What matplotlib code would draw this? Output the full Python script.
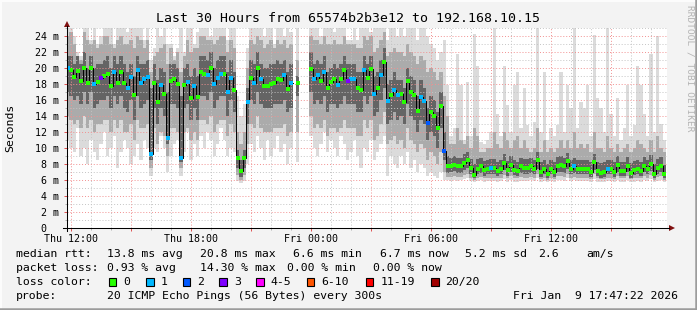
import numpy as np
import matplotlib.pyplot as plt
from matplotlib.ticker import MultipleLocator, FuncFormatter
from matplotlib.patches import Rectangle, Polygon

plt.rcParams['font.family'] = ['DejaVu Sans Mono']
nan = np.nan

# 10 minute steps, time in hours after Thu 12:00
t_start = -1 / 6
t_step = 1 / 6

median = [
    20.0, 19.7, 18.9, 19.6, 18.4, 20.0, 18.1, 20.0, 18.0, 18.3,
    18.8, 19.0, 19.3, 17.8, 19.5, 18.1, 19.5, 18.1, 17.5, 18.9,
    16.6, 19.8, 18.1, 18.6, 18.9, 9.3, 18.1, 15.8, 17.9, 16.8,
    11.3, 18.4, 18.6, 18.0, 8.8, 17.9, 18.3, 16.3, 17.7, 16.4,
    19.5, 19.3, 19.1, 20.0, 18.0, 18.8, 19.3, 19.3, 17.0, 18.8,
    17.3, 8.7, 7.1, 8.7, 15.7, 18.8, 18.1, 20.0, 18.6, 17.8,
    17.7, 18.0, 18.1, 18.6, 18.5, 19.1, 17.4, 18.1, nan, 18.1,
    nan, nan, nan, 19.9, 18.6, 19.1, 18.4, 19.5, 17.5, 18.2,
    18.6, 17.9, 18.6, 19.7, 18.4, 18.6, 18.6, 17.5, 17.3, 19.7,
    18.8, 19.9, 16.8, 17.5, 19.1, 20.8, 15.9, 16.6, 17.3, 16.6,
    16.8, 15.7, 18.4, 17.0, 16.6, 14.6, 16.4, 15.9, 13.1, 14.5,
    14.0, 12.5, 15.3, 9.6, 7.7, 7.8, 7.9, 7.7, 7.7, 8.1,
    8.5, 7.5, 6.6, 7.4, 7.7, 7.2, 7.4, 7.5, 7.5, 7.1,
    7.4, 8.1, 7.2, 7.9, 7.3, 7.1, 7.7, 7.5, 7.5, 7.7,
    7.4, 8.5, 7.0, 7.4, 6.8, 7.4, 7.0, 7.8, 7.9, 7.7,
    8.4, 7.4, 7.7, 7.4, 7.4, 7.4, 7.4, 7.0, 8.3, 7.1,
    6.9, 7.0, 7.4, 7.4, 7.0, 7.9, 7.1, 7.1, 7.8, 6.9,
    7.3, 7.4, 7.1, 7.8, 7.4, 8.0, 6.8, 7.5, 7.8, 6.7,
]

# lost pings per step (index into loss_colors)
loss_class = (
    "1000000010" "3000100011" "0111110010" "1000101010" "0010111011"
    "0000101010" "0000010100" "0000110100" "0100311001" "0010101011"
    "0000001120" "0002000000" "0000000100" "0000000000" "0000000000"
    "0010000000" "0010000000" "0000000000"
)

p_max = [
    25, 25, 24, 22, 21.5, 25, 25, 23.5, 25, 23,
    24, 25, 25, 25, 23, 25, 25, 25, 24.5, 25,
    25, 25, 25, 23.5, 25, 21, 22.5, 25, 24, 25,
    23, 23, 21.5, 22.5, 25, 22, 25, 25, 23, 24.5,
    25, 25, 25, 24, 25, 25, 25, 25, 23.5, 25,
    25, 16.5, 14.0, 15.5, 22.5, 25, 25, 25, 25, 24,
    25, 25, 23, 25, 25, 24, 25, 24.5, nan, 25,
    nan, nan, nan, 25, 25, 25, 24, 25, 25, 25,
    24.5, 25, 25, 25, 23.5, 23.5, 25, 23.5, 25, 25,
    25, 24.5, 25, 25, 25, 25, 23.5, 25, 25, 24,
    25, 24, 25, 25, 25, 23.5, 25, 25, 24, 23,
    22.5, 21, 22, 23.5, 17.9, 11.5, 12.5, 21.8, 17.9, 11.0,
    18.3, 11.5, 24.2, 20.2, 10.8, 10.5, 11.0, 12.0, 25, 14.3,
    11.5, 20.2, 15.4, 12.0, 17.9, 19.5, 12.5, 17.5, 12.9, 11.5,
    13.3, 25, 12.0, 19.5, 11.0, 12.5, 11.5, 12.9, 19.5, 12.0,
    17.9, 15.0, 25, 12.5, 15.8, 15.0, 17.9, 11.5, 24.1, 16.2,
    15.0, 12.0, 25, 14.3, 11.5, 16.2, 11.0, 12.5, 17.9, 11.5,
    12.9, 20.2, 17.9, 14.3, 11.5, 21.8, 12.0, 24.0, 13.0, 11.0,
]

p_90 = [
    24, 24.5, 23, 21.5, 21, 24.5, 23.5, 23, 23.5, 22.5,
    23, 24, 24, 23, 22.5, 23.5, 24, 23, 23, 23.5,
    22.5, 24, 23.5, 22.5, 23.5, 19.5, 21.5, 22, 22.5, 23,
    20.5, 22.5, 21, 22, 19.5, 21.5, 23.5, 22, 22.5, 22.5,
    24, 24, 23.5, 23.5, 23, 23.5, 24, 24, 22, 23.5,
    22.5, 12.0, 10.5, 12.0, 20.0, 23.5, 23, 24, 23.5, 22.5,
    23, 23.5, 22.5, 23.5, 23, 23.5, 22.5, 23, nan, 21,
    nan, nan, nan, 24, 23.5, 23.5, 23, 24, 23, 23,
    23.5, 23, 23, 24, 23, 23, 23, 22.5, 22.5, 24,
    23.5, 24, 22, 22.5, 23.5, 24.5, 21.5, 22, 22.5, 22,
    22, 21.5, 23, 22, 21.5, 20.5, 21.5, 21, 19.5, 20,
    19.5, 18.5, 19.5, 16.5, 14.0, 10.5, 10.5, 12.5, 11.0, 10.5,
    11.5, 10.0, 12.5, 11.5, 9.5, 9.5, 10.0, 10.0, 12.0, 10.5,
    10.0, 12.0, 11.0, 10.0, 11.0, 11.5, 10.0, 11.0, 10.0, 9.5,
    10.0, 12.5, 9.5, 11.0, 9.5, 10.0, 9.5, 10.0, 11.0, 10.0,
    11.0, 10.0, 12.0, 10.0, 10.5, 10.0, 10.5, 9.5, 12.0, 10.0,
    10.0, 9.5, 11.5, 10.0, 9.5, 10.5, 9.5, 10.0, 10.5, 9.5,
    10.0, 11.0, 10.5, 10.0, 9.5, 11.0, 9.5, 11.5, 10.0, 9.5,
]

p_75 = [
    21.5, 21.5, 20.5, 21.5, 20.5, 22, 20, 21.5, 20, 20.5,
    20.5, 21, 21.5, 20, 21.5, 20.5, 21.5, 20.5, 19.5, 20.5,
    19, 21.5, 20.5, 20.5, 21, 17.5, 20.5, 18.5, 20, 19.5,
    17.0, 20.5, 20.5, 20, 16.5, 20, 20.5, 19, 20, 19,
    21.5, 21.5, 21, 22, 20, 21, 21.5, 21.5, 19.5, 21,
    19.5, 9.8, 8.5, 9.8, 17.5, 21, 20.5, 22, 20.5, 20,
    20, 20.5, 20.5, 21, 20.5, 21, 19.5, 20.5, nan, 19.0,
    nan, nan, nan, 22, 20.5, 21, 20.5, 21.5, 19.5, 20,
    20.5, 20, 20.5, 21.5, 20.5, 20.5, 20.5, 19.5, 19.5, 21.5,
    20.5, 21.5, 19, 19.5, 21, 22.5, 18, 18.5, 19.5, 18.5,
    18.5, 17.5, 20, 19, 18.5, 16.5, 18.5, 17.5, 15, 16.5,
    16, 14.5, 17, 12.0, 9.0, 8.8, 9.0, 8.8, 8.8, 9.2,
    9.5, 8.6, 8.0, 8.6, 8.8, 8.4, 8.5, 8.6, 8.6, 8.3,
    8.5, 9.2, 8.4, 9.0, 8.5, 8.3, 8.8, 8.6, 8.6, 8.8,
    8.5, 9.5, 8.2, 8.5, 8.0, 8.5, 8.2, 8.9, 9.0, 8.8,
    9.4, 8.5, 8.8, 8.5, 8.5, 8.5, 8.5, 8.2, 9.3, 8.3,
    8.1, 8.2, 8.5, 8.5, 8.2, 9.0, 8.3, 8.3, 8.9, 8.1,
    8.4, 8.5, 8.3, 8.9, 8.5, 9.1, 8.0, 8.6, 8.9, 7.9,
]

p_25 = [
    17.0, 16.5, 16.0, 16.5, 15.5, 17.0, 15.5, 17.0, 15.0, 15.5,
    16.0, 16.0, 16.5, 15.0, 16.5, 15.5, 16.5, 15.0, 14.5, 16.0,
    13.5, 16.5, 15.0, 15.5, 16.0, 8.5, 15.0, 13.0, 15.0, 14.0,
    10.5, 15.5, 15.5, 15.0, 8.2, 15.0, 15.5, 13.5, 15.0, 13.5,
    16.5, 16.5, 16.0, 17.0, 15.0, 16.0, 16.5, 16.5, 14.0, 16.0,
    14.5, 7.5, 6.4, 7.5, 13.0, 16.0, 15.5, 17.0, 15.5, 15.0,
    15.0, 15.0, 15.5, 15.5, 15.5, 16.0, 14.5, 15.0, nan, 16.5,
    nan, nan, nan, 17.0, 15.5, 16.0, 15.5, 16.5, 14.5, 15.5,
    15.5, 15.0, 15.5, 16.5, 15.5, 15.5, 15.5, 14.5, 14.5, 16.5,
    15.5, 16.5, 14.0, 14.5, 16.0, 17.5, 13.0, 13.5, 14.5, 13.5,
    14.0, 13.0, 15.5, 14.0, 13.5, 12.0, 13.5, 13.0, 11.0, 12.0,
    11.5, 10.0, 12.5, 8.5, 6.9, 7.0, 7.1, 6.9, 6.9, 7.2,
    7.5, 6.8, 6.2, 6.7, 6.9, 6.5, 6.7, 6.8, 6.8, 6.5,
    6.7, 7.2, 6.5, 7.0, 6.6, 6.5, 6.9, 6.8, 6.8, 6.9,
    6.7, 7.4, 6.4, 6.7, 6.3, 6.7, 6.4, 7.0, 7.0, 6.9,
    7.4, 6.7, 6.9, 6.7, 6.7, 6.7, 6.7, 6.4, 7.3, 6.5,
    6.3, 6.4, 6.7, 6.7, 6.4, 7.0, 6.5, 6.5, 7.0, 6.3,
    6.6, 6.7, 6.5, 7.0, 6.7, 7.1, 6.3, 6.8, 7.0, 6.2,
]

p_10 = [
    14.0, 13.5, 13.0, 13.5, 12.5, 14.0, 12.5, 13.5, 12.0, 13.0,
    13.0, 13.5, 13.5, 12.0, 13.5, 12.5, 13.5, 12.0, 12.0, 13.0,
    11.0, 13.5, 12.5, 12.5, 13.0, 7.5, 12.5, 10.5, 12.0, 11.5,
    9.0, 12.5, 12.5, 12.0, 7.5, 12.0, 12.5, 11.0, 12.0, 11.0,
    13.5, 13.5, 13.0, 14.0, 12.0, 13.0, 13.5, 13.5, 11.5, 13.0,
    12.0, 6.6, 6.0, 6.6, 10.5, 13.0, 12.5, 14.0, 12.5, 12.0,
    12.0, 12.0, 12.5, 12.5, 12.5, 13.0, 11.5, 12.0, nan, 12.0,
    nan, nan, nan, 14.0, 12.5, 13.0, 12.5, 13.5, 11.5, 12.5,
    12.5, 12.0, 12.5, 13.5, 12.5, 12.5, 12.5, 11.5, 11.5, 13.5,
    12.5, 13.5, 11.0, 11.5, 13.0, 14.5, 10.5, 11.0, 11.5, 10.5,
    11.0, 10.0, 12.5, 11.0, 10.5, 9.5, 10.5, 10.0, 8.5, 9.5,
    9.0, 8.0, 9.5, 7.0, 6.4, 6.4, 6.5, 6.4, 6.4, 6.6,
    6.8, 6.3, 6.0, 6.3, 6.4, 6.2, 6.3, 6.3, 6.3, 6.2,
    6.3, 6.6, 6.2, 6.5, 6.2, 6.2, 6.4, 6.3, 6.3, 6.4,
    6.3, 6.8, 6.1, 6.3, 6.0, 6.3, 6.1, 6.5, 6.5, 6.4,
    6.8, 6.3, 6.4, 6.3, 6.3, 6.3, 6.3, 6.1, 6.7, 6.2,
    6.1, 6.1, 6.3, 6.3, 6.1, 6.5, 6.2, 6.2, 6.5, 6.1,
    6.2, 6.3, 6.2, 6.5, 6.3, 6.6, 6.0, 6.4, 6.5, 6.0,
]

p_min = [
    11.0, 10.0, 9.5, 12.5, 9.0, 10.0, 8.0, 11.0, 9.5, 8.5,
    10.5, 12.0, 9.0, 10.0, 11.5, 7.5, 9.5, 11.0, 10.0, 8.0,
    9.0, 10.5, 8.5, 11.0, 10.0, 6.5, 10.0, 9.5, 11.5, 10.0,
    7.0, 9.0, 10.5, 11.0, 6.5, 9.5, 12.0, 8.5, 10.5, 9.0,
    11.5, 10.0, 12.0, 11.0, 9.0, 10.5, 12.5, 11.0, 9.0, 10.0,
    9.5, 5.9, 5.6, 5.9, 8.0, 10.5, 9.5, 11.5, 10.0, 8.5,
    11.0, 9.0, 10.0, 11.5, 9.5, 10.5, 8.0, 10.0, nan, 8.3,
    nan, nan, nan, 11.5, 10.0, 9.0, 10.5, 12.0, 9.5, 11.0,
    10.0, 9.0, 11.5, 10.5, 8.5, 9.5, 11.0, 9.0, 7.5, 10.0,
    9.5, 11.0, 8.5, 9.5, 10.5, 11.5, 6.5, 9.0, 8.0, 7.5,
    9.0, 8.0, 9.5, 7.5, 8.5, 7.0, 8.0, 7.5, 6.5, 7.0,
    6.5, 6.3, 7.0, 6.0, 6.0, 5.9, 6.0, 5.9, 6.0, 6.1,
    6.2, 5.9, 5.7, 5.9, 6.0, 5.8, 5.9, 5.9, 5.9, 5.8,
    5.9, 6.1, 5.8, 6.0, 5.8, 5.8, 5.9, 5.9, 5.9, 6.0,
    5.9, 6.2, 5.8, 5.9, 5.7, 5.9, 5.8, 6.0, 6.0, 5.9,
    6.2, 5.9, 6.0, 5.9, 5.9, 5.9, 5.9, 5.8, 6.1, 5.8,
    5.8, 5.8, 5.9, 5.9, 5.8, 6.0, 5.8, 5.8, 6.0, 5.8,
    5.8, 5.9, 5.8, 6.0, 5.9, 6.1, 5.7, 5.9, 6.0, 5.7,
]

loss_labels = ['0', '1', '2', '3', '4-5', '6-10', '11-19', '20/20']
loss_colors = ['#26ff00', '#00b8ff', '#0059ff', '#7e00ff',
               '#ff00ff', '#ff5500', '#ff0000', '#a10000']
hour_labels = {0: 'Thu 12:00', 6: 'Thu 18:00', 12: 'Fri 00:00',
               18: 'Fri 06:00', 24: 'Fri 12:00'}

title = 'Last 30 Hours from 65574b2b3e12 to 192.168.10.15'
stats = [
    ('median rtt:', [(107, '13.8 ms avg'), (200, '20.8 ms max'), (292.7, '6.6 ms min'),
                     (380, '6.7 ms now'), (465, '5.2 ms sd'), (538.3, '2.6'), (586, 'am/s')]),
    ('packet loss:', [(107, '0.93 % avg'), (200, '14.30 % max'), (286.7, '0.00 % min'),
                      (372.7, '0.00 % now')]),
]
probe_text = '20 ICMP Echo Pings (56 Bytes) every 300s'
stamp = 'Fri Jan  9 17:47:22 2026'

W, H = 697, 310
fig = plt.figure(figsize=(W / 100, H / 100), dpi=100, facecolor='#f3f3f3')
ax = fig.add_axes([67 / W, (H - 228) / H, 600 / W, 200 / H])
ax.set_facecolor('white')

t = t_start + t_step * np.arange(len(median))
med = np.array(median)

# smoke: outer to inner
bands = [(p_min, p_max, '#dbdbdb'), (p_10, p_90, '#ababab'), (p_25, p_75, '#646464')]
for lo, hi, col in bands:
    lo = np.array(lo, dtype=float)
    hi = np.array(hi, dtype=float)
    ok = ~np.isnan(lo)
    ax.bar(t[ok], hi[ok] - lo[ok], bottom=lo[ok], width=t_step, color=col,
           linewidth=0, antialiased=False, zorder=1)

ax.plot(t, med, drawstyle='steps-mid', color='black', lw=0.7, zorder=3)
cls = np.array([int(c) for c in loss_class])
for k, col in enumerate(loss_colors):
    m = (cls == k) & ~np.isnan(med)
    if m.any():
        ax.plot(t[m], med[m], 's', ms=2.3, mew=0, color=col, zorder=4)

ax.set_xlim(-0.2, 29.8)
ax.set_ylim(0, 25)
ax.xaxis.set_major_locator(MultipleLocator(3))
ax.xaxis.set_minor_locator(MultipleLocator(1))
ax.yaxis.set_major_locator(MultipleLocator(2))
ax.yaxis.set_minor_locator(MultipleLocator(1))
ax.xaxis.set_major_formatter(FuncFormatter(lambda v, p: hour_labels.get(int(round(v)), '')))
ax.yaxis.set_major_formatter(FuncFormatter(lambda v, p: '%d m' % v if v > 0 else '0  '))
ax.grid(which='minor', color='#c4c4c4', ls=(0, (1, 2)), lw=0.7, zorder=2)
ax.grid(which='major', color='#f29090', ls=(0, (1, 2)), lw=0.7, zorder=2)
ax.set_axisbelow(False)
for s in ax.spines.values():
    s.set_visible(False)
ax.tick_params(which='major', length=2, width=0.7, color='#e05050', labelsize=7.2, pad=2)
ax.tick_params(which='minor', length=1.5, width=0.7, color='#b0b0b0')
ax.tick_params(axis='y', which='major', pad=3.5)

# overlay in pixel units for axis lines, arrows and legend
ov = fig.add_axes([0, 0, 1, 1], zorder=5)
ov.set_xlim(0, W)
ov.set_ylim(H, 0)
ov.axis('off')
ov.patch.set_alpha(0)

ov.plot([63, 669], [228, 228], color='black', lw=0.75)
ov.plot([67, 67], [231, 26], color='black', lw=0.75)
ov.add_patch(Polygon([(64, 27), (70, 27), (67, 21)], closed=True, color='#801010', lw=0))
ov.add_patch(Polygon([(669, 225), (669, 231), (675, 228)], closed=True, color='#801010', lw=0))

# 3d frame
ov.plot([0, W], [1, 1], color='#fcfcfc', lw=1.5)
ov.plot([1, 1], [0, H], color='#fcfcfc', lw=1.5)
ov.plot([0, W], [H - 1, H - 1], color='#9c9c9c', lw=1.8)
ov.plot([W - 1, W - 1], [0, H], color='#9c9c9c', lw=1.8)

ov.text(348.5, 18.5, title, ha='center', va='center', fontsize=9.5)
ov.text(10, 128, 'Seconds', rotation=90, ha='center', va='center', fontsize=8.25)
ov.text(690, 5, 'RRDTOOL / TOBI OETIKER', rotation=270, ha='center', va='top',
        fontsize=6.8, color='#b4b4b4')

fs = 8.25
for row, (head, parts) in enumerate(stats):
    y = 254 + 14 * row
    ov.text(16, y, head, va='center', fontsize=fs)
    for x, s in parts:
        ov.text(x, y, s, va='center', fontsize=fs)

y = 282
ov.text(16, y, 'loss color:', va='center', fontsize=fs)
box_x = [108.7, 146, 182.7, 219.3, 256, 306.7, 365.7, 431]
for bx, lab, col in zip(box_x, loss_labels, loss_colors):
    ov.add_patch(Rectangle((bx, y - 3.8), 7.5, 7.5, facecolor=col, edgecolor='black', lw=0.8))
    ov.text(bx + 14.5, y, lab, va='center', fontsize=fs)

y = 296
ov.text(16, y, 'probe:', va='center', fontsize=fs)
ov.text(107, y, probe_text, va='center', fontsize=fs)
ov.text(513.3, y, stamp, va='center', fontsize=fs)

fig.savefig('out.png', dpi=100, facecolor=fig.get_facecolor())
